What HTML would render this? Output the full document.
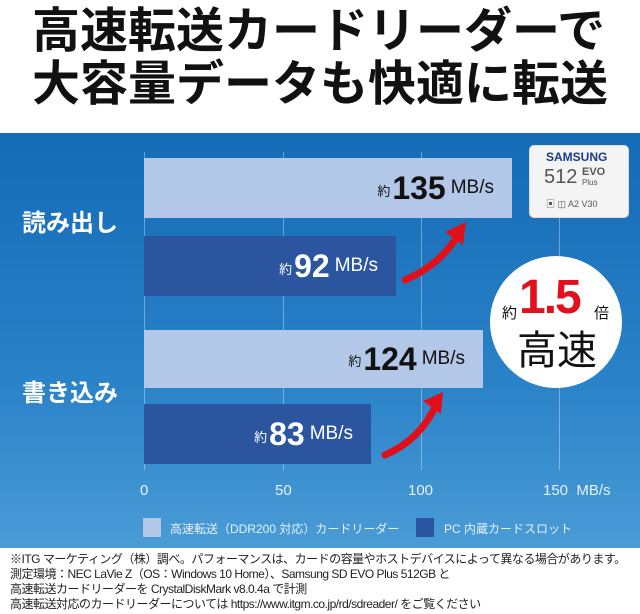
<!DOCTYPE html>
<html><head><meta charset="utf-8"><style>
*{margin:0;padding:0;box-sizing:border-box}
body{width:640px;height:614px;background:#fff;position:relative;overflow:hidden;font-family:"Liberation Sans","Noto Sans CJK JP",sans-serif}
.a{position:absolute;white-space:nowrap}
.title{left:32px;font-size:48px;font-weight:bold;color:#111;letter-spacing:0px;line-height:48px}
.panel{left:0;top:133px;width:640px;height:415px;background:linear-gradient(#146bb6,#2a82c8 60%,#4a9cd6)}
.grid{top:152px;width:1px;height:318px;background:rgba(255,255,255,0.35)}
.bar{left:144px;display:flex;align-items:center;justify-content:flex-end;padding-right:18px}
.l{background:#b3c8e8;color:#111}
.d{background:#2c55a0;color:#fff}
.bar .y{font-size:13px;margin-right:2px;align-self:flex-end;margin-bottom:18px}
.bar b{font-size:32px;font-weight:bold}
.bar i{font-style:normal;font-size:19px;margin-left:5px}
.lab{color:#fff;font-size:24px;font-weight:bold;left:22px}
.ax{color:#e8f0fa;font-size:15px;top:482px}
.foot{left:10px;font-size:12px;color:#222;line-height:15px;letter-spacing:-0.5px}
</style></head><body>
<div class="a title" style="top:8px">高速転送カードリーダーで</div>
<div class="a title" style="top:61px">大容量データも快適に転送</div>
<div class="a panel"></div>
<div class="a grid" style="left:144px"></div>
<div class="a grid" style="left:283px"></div>
<div class="a grid" style="left:421px"></div>
<div class="a grid" style="left:559px"></div>
<div class="a bar l" style="top:158px;width:368px;height:60px"><span class="y">約</span><b>135</b><i>MB/s</i></div>
<div class="a bar d" style="top:236px;width:252px;height:60px"><span class="y">約</span><b>92</b><i>MB/s</i></div>
<div class="a bar l" style="top:330px;width:339px;height:58px"><span class="y">約</span><b>124</b><i>MB/s</i></div>
<div class="a bar d" style="top:404px;width:227px;height:60px"><span class="y">約</span><b>83</b><i>MB/s</i></div>
<div class="a lab" style="top:203px">読み出し</div>
<div class="a lab" style="top:373px">書き込み</div>
<svg class="a" style="left:0;top:0" width="640" height="614">
<path d="M405 280 Q440 265 458 235" stroke="#e0101a" stroke-width="7" fill="none" stroke-linecap="round"/>
<polygon points="466,222 445,232 463,245" fill="#e0101a"/>
<path d="M385 455 Q420 440 436 405" stroke="#e0101a" stroke-width="7" fill="none" stroke-linecap="round"/>
<polygon points="443,392 423,401 441,414" fill="#e0101a"/>
<circle cx="556" cy="322" r="66" fill="#fff"/>
</svg>
<div class="a" style="left:502px;top:302px;font-size:15px;color:#111">約</div>
<div class="a" style="left:519px;top:270px;font-size:48px;font-weight:bold;color:#e3101b;letter-spacing:-2px">1.5</div>
<div class="a" style="left:594px;top:302px;font-size:15px;color:#111">倍</div>
<div class="a" style="left:517px;top:318px;font-size:40px;color:#111">高速</div>
<div class="a" style="left:529px;top:145px;width:100px;height:73px;background:#f4f4f4;border-radius:5px;border:1px solid #ddd"></div>
<div class="a" style="left:546px;top:150px;font-size:12px;font-weight:bold;color:#1a3a8a">SAMSUNG</div>
<div class="a" style="left:544px;top:166px;font-size:20px;color:#555">512</div>
<div class="a" style="left:582px;top:166px;font-size:11px;font-weight:bold;color:#555">EVO</div>
<div class="a" style="left:582px;top:178px;font-size:8px;color:#555">Plus</div>
<div class="a" style="left:546px;top:197px;font-size:9px;color:#555">▣ ◫ A2 V30</div>
<div class="a ax" style="left:140px">0</div>
<div class="a ax" style="left:275px">50</div>
<div class="a ax" style="left:408px">100</div>
<div class="a ax" style="left:543px">150&nbsp; MB/s</div>
<div class="a" style="left:143px;top:518px;width:18px;height:19px;background:#b3c8e8"></div>
<div class="a" style="left:170px;top:520px;font-size:12px;color:#e8f0fa">高速転送（DDR200 対応）カードリーダー</div>
<div class="a" style="left:416px;top:518px;width:18px;height:19px;background:#2c55a0"></div>
<div class="a" style="left:444px;top:520px;font-size:12px;color:#e8f0fa">PC 内蔵カードスロット</div>
<div class="a foot" style="top:552px">※ITG マーケティング（株）調べ。パフォーマンスは、カードの容量やホストデバイスによって異なる場合があります。<br>測定環境：NEC LaVie Z（OS：Windows 10 Home）、Samsung SD EVO Plus 512GB と<br>高速転送カードリーダーを CrystalDiskMark v8.0.4a で計測<br>高速転送対応のカードリーダーについては https://www.itgm.co.jp/rd/sdreader/ をご覧ください</div>
</body></html>
